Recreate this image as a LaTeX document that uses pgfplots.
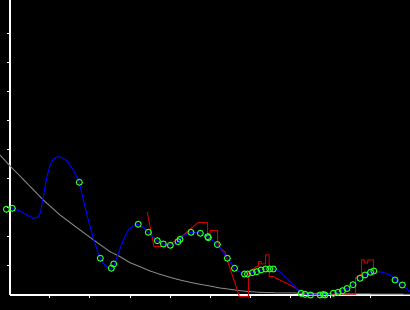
\documentclass[border=0pt]{standalone}
\usepackage{pgfplots}
\pgfplotsset{compat=1.18}
\usetikzlibrary{backgrounds}
\definecolor{myred}{RGB}{204,0,0}
\definecolor{mygreen}{RGB}{40,255,40}
\definecolor{mygray}{RGB}{128,128,128}
\begin{document}
\begin{tikzpicture}
\begin{axis}[
  scale only axis, width=400pt, height=295pt,
  xmin=0, xmax=10, ymin=0, ymax=10.17,
  clip=false,
  axis lines=left,
  axis line style={-, white, line width=1.2pt},
  xtick={1,...,10}, ytick={1,...,9},
  xticklabel={}, yticklabel={},
  tick align=outside, major tick length=3pt,
  tick style={white, line width=1pt},
]
% gray decay curve
\addplot[mygray, line width=1pt] coordinates {
(-0.25,4.828) (0,4.448) (0.25,4.103) (0.833,3.276) (1.25,2.759) (1.75,2.241)
(2.125,1.862) (2.5,1.493) (2.75,1.321) (3.0,1.114) (3.25,0.976) (3.5,0.828)
(3.75,0.714) (4.0,0.610) (4.25,0.517) (4.5,0.438) (4.75,0.369) (5.0,0.310)
(5.25,0.241) (5.5,0.197) (5.75,0.148) (6.0,0.114) (6.25,0.093) (6.5,0.079)
(7.125,0.069) (8.0,0.045) (10,0.024)};
% red curve
\addplot[myred, line width=1pt] coordinates {
(3.433,2.852) (3.6,1.666) (3.875,1.666) (4.05,1.793) (4.333,2.069) (4.708,2.507)
(4.943,2.507) (4.943,2.128) (5.0,2.128) (5.0,2.217) (5.193,2.217) (5.193,1.828)
(5.25,1.621) (5.375,1.483) (5.458,1.093) (5.583,0.576) (5.708,0.059) (5.733,-0.059)
(5.958,-0.059) (5.958,0.783) (6.05,0.862) (6.15,0.966) (6.208,1.0) (6.208,1.148)
(6.275,1.148) (6.275,1.069) (6.393,1.069) (6.393,1.379) (6.475,1.379) (6.475,0.631)
(6.583,0.631) (6.708,0.541) (6.918,0.403) (7.083,0.286) (7.208,0.172) (7.325,0.034)
(8.643,0.034) (8.643,0.586) (8.7,0.655) (8.793,0.724) (8.793,1.207) (8.85,1.207)
(8.875,1.103) (8.938,1.103) (8.95,1.207) (9.083,1.207) (9.083,0.793) (9.25,0.793)};
% blue fitted curve
\addplot[blue, line width=1pt] coordinates {
(0.058,2.990) (0.25,2.897) (0.425,2.759) (0.575,2.645) (0.7,2.679) (0.768,2.872)
(0.8,3.162) (0.833,3.390) (0.875,3.734) (0.925,4.079) (1.0,4.483) (1.083,4.690)
(1.2,4.769) (1.3,4.734) (1.418,4.631) (1.583,4.310) (1.733,3.886) (1.833,3.276)
(1.958,2.586) (2.083,1.955) (2.193,1.493) (2.258,1.266) (2.333,1.093) (2.458,0.921)
(2.533,0.886) (2.625,1.093) (2.708,1.438) (2.833,1.897) (2.958,2.241) (3.083,2.390)
(3.2,2.438) (3.325,2.328) (3.458,2.162) (3.683,1.872) (3.833,1.759) (4.008,1.714)
(4.125,1.776) (4.25,1.921) (4.375,2.069) (4.525,2.162) (4.65,2.162) (4.758,2.128)
(4.95,2.0) (5.183,1.741) (5.433,1.266) (5.613,0.921) (5.75,0.793) (5.875,0.724)
(6.0,0.748) (6.15,0.803) (6.275,0.862) (6.4,0.897) (6.5,0.897) (6.625,0.879)
(6.75,0.803) (6.925,0.576) (7.125,0.286) (7.25,0.114) (7.375,0.034) (7.55,0.0)
(7.75,0.0) (7.95,0.017) (8.1,0.059) (8.3,0.148) (8.45,0.241) (8.575,0.355)
(8.75,0.576) (8.875,0.690) (9.0,0.783) (9.168,0.817) (9.325,0.776) (9.5,0.690)
(9.625,0.552) (9.8,0.345) (10.0,0.114)};
% green data points
\addplot[only marks, mark=o, mark size=3pt, mygreen, mark options={line width=1pt}] coordinates {
(-0.09,2.955) (0.058,2.99) (1.733,3.886) (2.258,1.266) (2.533,0.921) (2.593,1.069)
(3.205,2.438) (3.458,2.162) (3.683,1.872) (3.833,1.759) (4.008,1.714) (4.2,1.838)
(4.25,1.921) (4.525,2.162) (4.758,2.128) (4.943,2.010) (4.958,1.976) (5.183,1.741)
(5.433,1.266) (5.613,0.921) (5.863,0.724) (5.938,0.724) (6.058,0.769) (6.168,0.803)
(6.275,0.862) (6.393,0.897) (6.493,0.897) (6.583,0.897) (7.275,0.059) (7.375,0.024)
(7.513,0.0) (7.75,0.0) (7.833,0.017) (7.875,0.0) (8.083,0.059) (8.2,0.093)
(8.313,0.148) (8.425,0.224) (8.575,0.355) (8.75,0.576) (8.875,0.690) (9.013,0.783)
(9.095,0.828) (9.625,0.517) (9.808,0.345)};
\end{axis}
\begin{scope}[on background layer]
\fill[black] (-10pt,-15pt) rectangle (400pt,295pt);
\end{scope}
\pgfresetboundingbox
\useasboundingbox (-10pt,-15pt) rectangle (400pt,295pt);
\end{tikzpicture}
\end{document}
